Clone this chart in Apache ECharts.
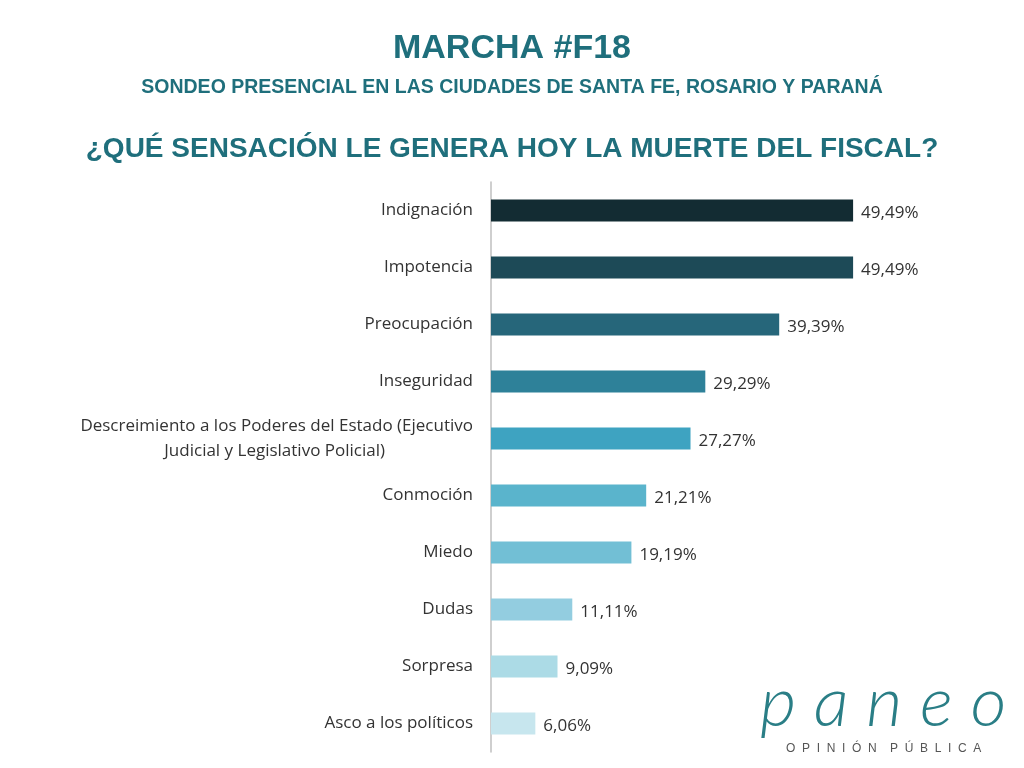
<!DOCTYPE html>
<html>
<head>
<meta charset="utf-8">
<script src="https://cdn.jsdelivr.net/npm/echarts@6/dist/echarts.min.js"></script>
<style>html,body{margin:0;padding:0;background:#fff}#main{width:1024px;height:768px}</style>
</head>
<body>
<div id="main"></div>
<script>
let categories = ['Indignación', 'Impotencia', 'Preocupación', 'Inseguridad', 'Descreimiento a los Poderes del Estado (Ejecutivo\nJudicial y Legislativo Policial)', 'Conmoción', 'Miedo', 'Dudas', 'Sorpresa', 'Asco a los políticos']
let values = [49.49, 49.49, 39.39, 29.29, 27.27, 21.21, 19.19, 11.11, 9.09, 6.06]
let colors = ['#132c33', '#1d4a57', '#26667a', '#2e8199', '#3ea3c1', '#5ab4cc', '#72bfd5', '#93cde0', '#acdbe6', '#c7e6ee']

let teal = '#1f6f7c'
var chart = echarts.init(document.getElementById('main'));
chart.setOption({
	animation: false,
	grid: {
		left: 491,
		width: 439,
		top: 182,
		height: 570
	},
	xAxis: {
		type: 'value',
		min: 0,
		max: 60,
		show: false
	},
	yAxis: {
		type: 'category',
		inverse: true,
		data: categories,
		axisLine: {
			lineStyle: { color: '#bfbfbf', width: 1.5 }
		},
		axisTick: { show: false },
		axisLabel: {
			color: '#333',
			fontSize: 17,
			fontFamily: 'Open Sans',
			margin: 18,
			align: 'right',
			lineHeight: 25,
			formatter: function(v) {
				// la etiqueta larga lleva la segunda línea centrada
				if (v.indexOf('\n') > -1) {
					let p = v.split('\n')
					return '{a|' + p[0] + '}\n{b|' + p[1] + '}'
				}
				return v
			},
			rich: {
				a: { fontSize: 17, fontFamily: 'Open Sans', color: '#333', lineHeight: 25 },
				b: { fontSize: 17, fontFamily: 'Open Sans', color: '#333', lineHeight: 25, padding: [0, 88, 0, 0] }
			}
		}
	},
	series: [{
		type: 'bar',
		barWidth: 22,
		data: values.map(function(v, i) {
			return { value: v, itemStyle: { color: colors[i] } }
		}),
		label: {
			show: true,
			position: 'right',
			distance: 8,
			offset: [0, 3],
			color: '#333',
			fontSize: 17,
			fontFamily: 'Open Sans',
			formatter: function(p) {
				return p.value.toFixed(2).replace('.', ',') + '%'
			}
		}
	}],
	graphic: [
		{ type: 'text', left: 'center', top: 32, style: { text: 'MARCHA #F18', fill: teal, font: 'bold 34px "Liberation Sans"' } },
		{ type: 'text', left: 'center', top: 78, style: { text: 'SONDEO PRESENCIAL EN LAS CIUDADES DE SANTA FE, ROSARIO Y PARANÁ', fill: teal, font: 'bold 19.5px "Liberation Sans"' } },
		{ type: 'text', left: 'center', top: 135, style: { text: '¿QUÉ SENSACIÓN LE GENERA HOY LA MUERTE DEL FISCAL?', fill: teal, font: 'bold 28px "Liberation Sans"' } },
		{ type: 'text', left: 760, top: 668, style: { text: 'p a n e o', fill: '#2a7e86', font: 'italic 300 70px "Lato"' } },
		{ type: 'text', left: 786, top: 743, style: { text: 'O  P  I  N  I  Ó  N    P  Ú  B  L  I  C  A', fill: '#555', font: '12px "Liberation Sans"' } }
	]
})
</script>
</body>
</html>
